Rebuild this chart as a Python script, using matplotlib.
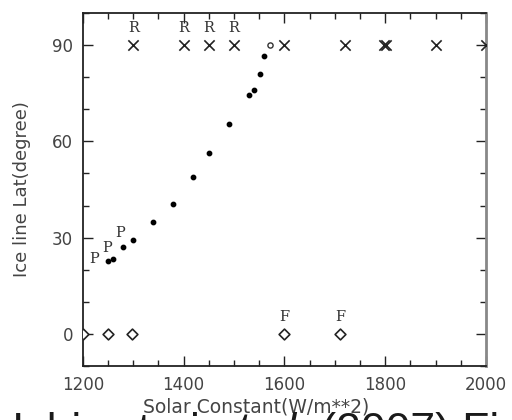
import matplotlib
matplotlib.use("Agg")
import matplotlib.pyplot as plt
from matplotlib.ticker import MultipleLocator

# ice line latitude vs solar constant
dot_x = [1250, 1260, 1279, 1299, 1339, 1379, 1418, 1450, 1490, 1529, 1539, 1551, 1559]
dot_y = [22.6, 23.2, 27.0, 29.2, 35.0, 40.6, 49.0, 56.5, 65.5, 74.5, 76.0, 81.0, 86.6]
open_x = [1571]
open_y = [90]
cross_x = [1300, 1400, 1450, 1500, 1600, 1720, 1798, 1802, 1900, 2000]
cross_y = [90, 90, 90, 90, 90, 90, 90, 90, 90, 90]
cross_labels = ["R", "R", "R", "R", "", "", "", "", "", ""]
diamond_x = [1200, 1250, 1298, 1600, 1710]
diamond_y = [0, 0, 0, 0, 0]
diamond_labels = ["", "", "", "F", "F"]
p_labels = ["P", "P", "P"]
p_offsets = [(-10, 2), (-4, 8), (-2, 10)]

xticks = [1200, 1400, 1600, 1800, 2000]
yticks = [0, 30, 60, 90]

fig = plt.figure(figsize=(5.12, 4.2), dpi=100)
ax = fig.add_axes([0.162, 0.1286, 0.787, 0.8405])
ax.set_xlim(1200, 2000)
ax.set_ylim(-10, 100)

ax.scatter(dot_x, dot_y, s=10, color="black", zorder=3)
ax.scatter(open_x, open_y, s=14, facecolor="white", edgecolor="#333", linewidth=1, zorder=3)
ax.scatter(cross_x, cross_y, s=55, marker="x", color="#222", linewidth=1.2, zorder=3)
ax.scatter(diamond_x, diamond_y, s=30, marker="D", facecolor="white",
           edgecolor="#222", linewidth=1.2, zorder=3)

serif = dict(family="DejaVu Serif", fontsize=10.5, color="#333")
for x, y, t in zip(cross_x, cross_y, cross_labels):
    if t:
        ax.annotate(t, (x, y), xytext=(0, 12), textcoords="offset points",
                    ha="center", va="center", **serif)
for x, y, t in zip(diamond_x, diamond_y, diamond_labels):
    if t:
        ax.annotate(t, (x, y), xytext=(0, 12), textcoords="offset points",
                    ha="center", va="center", **serif)
for x, y, t, off in zip(dot_x, dot_y, p_labels, p_offsets):
    ax.annotate(t, (x, y), xytext=off, textcoords="offset points",
                ha="center", va="center", **serif)

ax.set_xticks(xticks)
ax.set_yticks(yticks)
ax.xaxis.set_minor_locator(MultipleLocator(50))
ax.yaxis.set_minor_locator(MultipleLocator(10))
ax.tick_params(which="both", direction="in", top=True, right=True,
               color="#222", labelcolor="#444", labelsize=12, pad=7)
ax.tick_params(which="major", length=7, width=1)
ax.tick_params(which="minor", length=4, width=1)
for s in ["left", "top", "bottom"]:
    ax.spines[s].set_linewidth(1.3)
    ax.spines[s].set_color("#222")
ax.spines["right"].set_linewidth(2)
ax.spines["right"].set_color("#888")

ax.set_ylabel("Ice line Lat(degree)", fontsize=13, color="#444")
ax.yaxis.set_label_coords(-0.13, 0.5)
ax.set_xlabel("Solar Constant(W/m**2)", fontsize=13.5, color="#444")
ax.xaxis.set_label_coords(0.43, -0.088)

# overlapping caption from the page, mostly cut off below the edge
fig.canvas.draw()
renderer = fig.canvas.get_renderer()
cap = dict(family="Liberation Sans", fontsize=32,
           color="#1a1a1a", va="baseline", zorder=0)
x0, y0 = 12 / 512, (420 - 444) / 420
parts = [("Ishiwatari ", "normal"), ("et al.", "italic"), (" (2007) Fig.", "normal")]
for text, style in parts:
    t = fig.text(x0, y0, text, style=style, **cap)
    bb = t.get_window_extent(renderer)
    x0 += bb.width / fig.bbox.width

fig.savefig("out.png", dpi=100)
